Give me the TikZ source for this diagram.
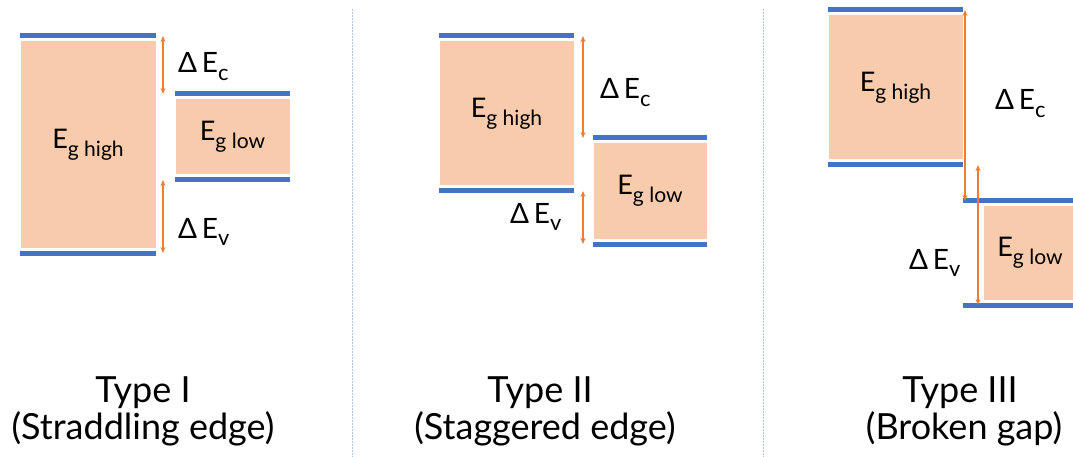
\documentclass[tikz,border=0pt]{standalone}
\usepackage{fontspec}
\usepackage{graphicx}
\setmainfont{Lato}
\usetikzlibrary{arrows.meta}
\definecolor{edgeblue}{HTML}{4472C4}
\definecolor{gapfill}{HTML}{F8CBAD}
\definecolor{offsetorange}{HTML}{ED7D31}
\definecolor{sepblue}{HTML}{AFC2E5}
\tikzset{
  gap/.style={fill=gapfill,draw=white,line width=1pt,inner sep=0pt,font=\fontsize{27}{30}\selectfont},
  edgeline/.style={edgeblue,line width=5pt},
  offset/.style={offsetorange,line width=1.5pt,{Stealth[length=6pt,width=5pt]}-{Stealth[length=6pt,width=5pt]}},
  dlabel/.style={anchor=base west,inner sep=0pt,font=\fontsize{28}{32}\selectfont},
  title/.style={anchor=base,inner sep=0pt,font=\fontsize{36}{40}\selectfont},
  divider/.style={sepblue,line width=1pt,dash pattern=on 2pt off 1pt}
}
% lowered subscript, a bit larger than \textsubscript
\newcommand\lsub[1]{\raisebox{-.28em}{\scalebox{.78}{#1}}}
% band gap box with its conduction and valence band edges
% #1 name, #2 left, #3 right, #4 conduction edge, #5 valence edge, #6 label
\newcommand\gapbox[6]{%
  \node[gap,minimum width={(#3-#2)*1pt},minimum height={(#5-#4-10)*1pt}] (#1) at ({(#2+#3)/2},{(#4+#5)/2}) {#6};
  \draw[edgeline] (#2,#4) coordinate (#1-cb) -- (#3,#4);
  \draw[edgeline] (#2,#5) coordinate (#1-vb) -- (#3,#5);
}
\begin{document}
\begin{tikzpicture}[x=1pt,y=-1pt]
  \useasboundingbox (0,0) rectangle (1073,457);
  \draw[divider] (352,9) -- (352,457);
  \draw[divider] (763,9) -- (763,457);
  % Type I
  \gapbox{hiA}{20}{156}{36}{253}{E\lsub{g high}}
  \gapbox{loA}{175}{290}{94}{180}{E\lsub{g low}}
  \coordinate (xA) at (163,0);
  \draw[offset] (xA |- hiA-cb) -- (xA |- loA-cb);
  \draw[offset] (xA |- loA-vb) -- (xA |- hiA-vb);
  \node[dlabel] (dcA) at (178,73) {Δ\,E\lsub{c}};
  \node[dlabel] (dvA) at (178,238) {Δ\,E\lsub{v}};
  \node[title] (tA) at (143,402) {Type I};
  \node[title] (sA) at (143,439) {(Straddling edge)};
  % Type II
  \gapbox{hiB}{439}{574}{36}{191}{E\lsub{g high}}
  \gapbox{loB}{593}{707}{138}{244}{E\lsub{g low}}
  \coordinate (xB) at (583,0);
  \draw[offset] (xB |- hiB-cb) -- (xB |- loB-cb);
  \draw[offset] (xB |- hiB-vb) -- (xB |- loB-vb);
  \node[dlabel] (dcB) at (600,99) {Δ\,E\lsub{c}};
  \node[dlabel] (dvB) at (510,223) {Δ\,E\lsub{v}};
  \node[title] (tB) at (540,402) {Type II};
  \node[title] (sB) at (545,439) {(Staggered edge)};
  % Type III
  \gapbox{hiC}{828}{963}{10}{165}{E\lsub{g high}}
  \gapbox{loC}{983}{1077}{201}{305}{E\lsub{g low}}
  \draw[edgeline] (963,201) -- (loC-cb) (963,305) -- (loC-vb);
  \coordinate (xC) at (965,0);
  \coordinate (yC) at (978,0);
  \draw[offset] (xC |- hiC-cb) -- (xC |- loC-cb);
  \draw[offset] (yC |- hiC-vb) -- (yC |- loC-vb);
  \node[dlabel] (dcC) at (995,110) {Δ\,E\lsub{c}};
  \node[dlabel] (dvC) at (909,269) {Δ\,E\lsub{v}};
  \node[title] (tC) at (960,402) {Type III};
  \node[title] (sC) at (964,439) {(Broken gap)};
\end{tikzpicture}
\end{document}
